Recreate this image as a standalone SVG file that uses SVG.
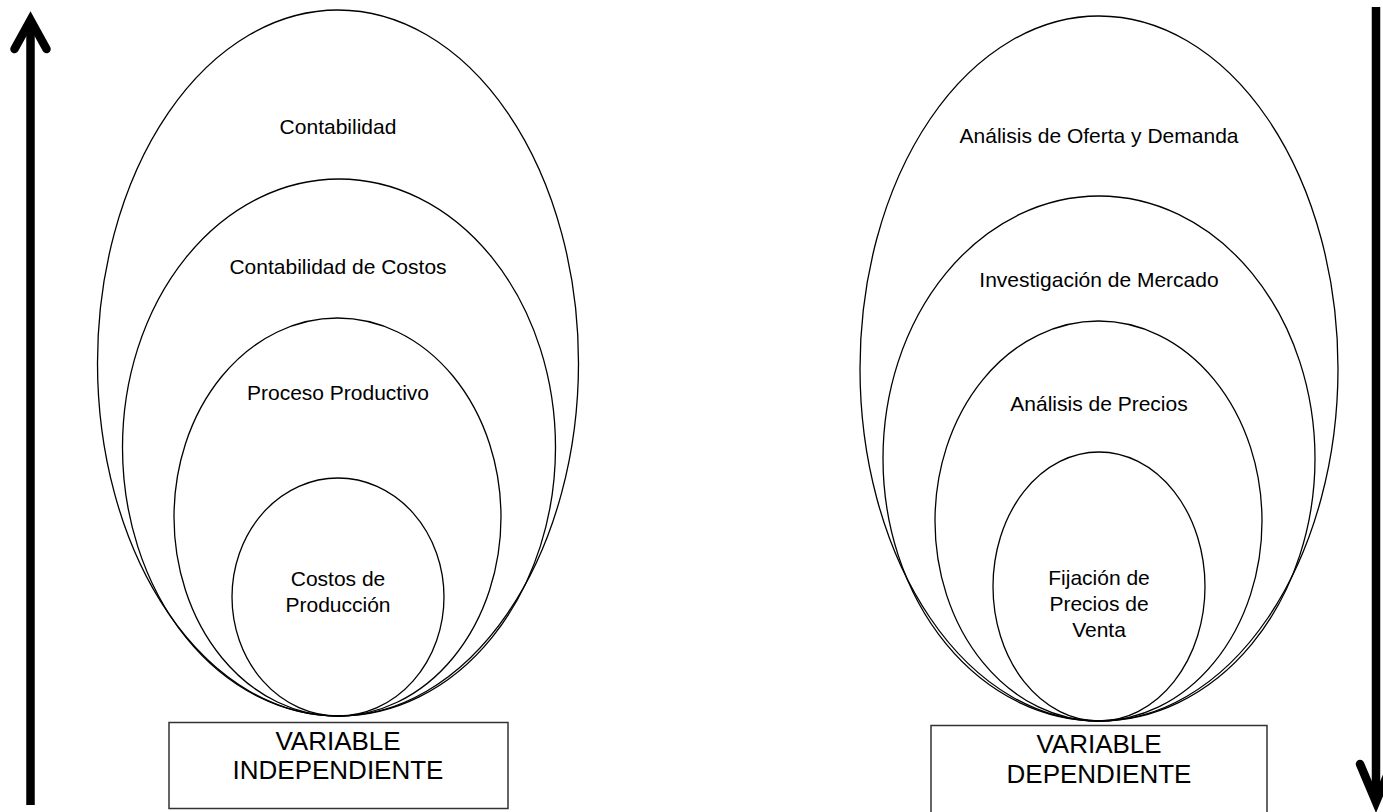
<svg xmlns="http://www.w3.org/2000/svg" width="1383" height="812" viewBox="0 0 1383 812">
  <style>
    .ring { fill: none; stroke: #000; stroke-width: 1.3; }
    .box { fill: #fff; stroke: #333; stroke-width: 1.5; }
    .lbl { font-family: "Liberation Sans", Arial, sans-serif; font-size: 21px; fill: #000; text-anchor: middle; }
    .big { font-family: "Liberation Sans", Arial, sans-serif; font-size: 26px; fill: #000; text-anchor: middle; }
    .shaft { fill: none; stroke: #000; stroke-width: 8.5; }
    .head { fill: none; stroke: #000; stroke-width: 8.5; stroke-linecap: round; stroke-linejoin: miter; }
  </style>

  <rect width="1383" height="812" fill="#fff"/>

  <!-- vertical arrows along both edges -->
  <g id="connectors">
    <g id="arrow-up">
      <line class="shaft" x1="30.5" y1="805" x2="30.5" y2="24"/>
      <polyline class="head" points="14.5,49 30.5,20 46.5,49"/>
    </g>
    <g id="arrow-down">
      <line class="shaft" x1="1376" y1="7" x2="1376" y2="798"/>
      <polyline class="head" points="1360,764 1376,802 1392,764"/>
    </g>
  </g>

  <!-- left stack: independent variable -->
  <g id="contabilidad">
    <ellipse class="ring" cx="338" cy="363" rx="240.5" ry="353"/>
    <text class="lbl" x="338" y="134">Contabilidad</text>
  </g>
  <g id="contabilidad-costos">
    <ellipse class="ring" cx="339" cy="447.5" rx="216.5" ry="268.5"/>
    <text class="lbl" x="338" y="274">Contabilidad de Costos</text>
  </g>
  <g id="proceso-productivo">
    <ellipse class="ring" cx="337.5" cy="517" rx="163.5" ry="199"/>
    <text class="lbl" x="338" y="400">Proceso Productivo</text>
  </g>
  <g id="costos-produccion">
    <ellipse class="ring" cx="338" cy="597" rx="106" ry="119"/>
    <text class="lbl" x="338" y="586">Costos de</text>
    <text class="lbl" x="338" y="612">Producción</text>
  </g>
  <g id="variable-independiente">
    <rect class="box" x="169" y="722.5" width="339" height="86"/>
    <text class="big" x="338" y="750">VARIABLE</text>
    <text class="big" x="338" y="779">INDEPENDIENTE</text>
  </g>

  <!-- right stack: dependent variable -->
  <g id="oferta-demanda">
    <ellipse class="ring" cx="1099" cy="368.5" rx="239" ry="352.5"/>
    <text class="lbl" x="1099" y="143">Análisis de Oferta y Demanda</text>
  </g>
  <g id="investigacion-mercado">
    <ellipse class="ring" cx="1099" cy="458.5" rx="216" ry="262.5"/>
    <text class="lbl" x="1099" y="287">Investigación de Mercado</text>
  </g>
  <g id="analisis-precios">
    <ellipse class="ring" cx="1098.5" cy="521" rx="163.5" ry="200"/>
    <text class="lbl" x="1099" y="411">Análisis de Precios</text>
  </g>
  <g id="fijacion-precios">
    <ellipse class="ring" cx="1099" cy="586.5" rx="106" ry="134.5"/>
    <text class="lbl" x="1099" y="585">Fijación de</text>
    <text class="lbl" x="1099" y="611">Precios de</text>
    <text class="lbl" x="1099" y="637">Venta</text>
  </g>
  <g id="variable-dependiente">
    <rect class="box" x="931" y="725.5" width="336" height="90"/>
    <text class="big" x="1099" y="753">VARIABLE</text>
    <text class="big" x="1099" y="783">DEPENDIENTE</text>
  </g>
</svg>
